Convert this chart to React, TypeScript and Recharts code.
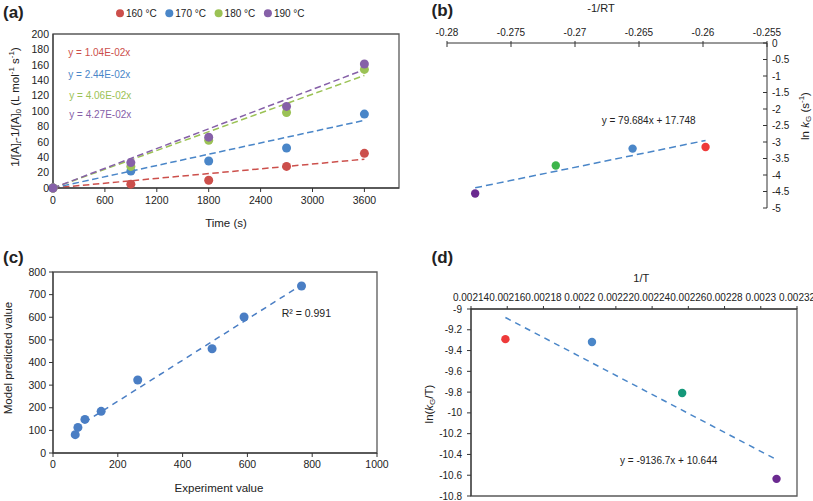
import React from 'react';
import { ScatterChart, Scatter, XAxis, YAxis, ReferenceLine, ReferenceArea } from 'recharts';

const FONT = "'Liberation Sans', Arial, Helvetica, sans-serif";
const TXT = '#222222';
const AX = '#333333';
const BOX = '#595959';

// ---------- Panel (a) ----------
const timeTicks = [0, 600, 1200, 1800, 2400, 3000, 3600];
const concTicks = [0, 20, 40, 60, 80, 100, 120, 140, 160, 180, 200];
const tempLabels = ['160 °C', '170 °C', '180 °C', '190 °C'];
const colorsA = ['#cc4f4b', '#4a86c8', '#9bc255', '#8660a8'];
const a160 = [{ x: 0, y: 0 }, { x: 900, y: 5 }, { x: 1800, y: 10 }, { x: 2700, y: 28 }, { x: 3600, y: 45 }];
const a170 = [{ x: 0, y: 0 }, { x: 900, y: 22 }, { x: 1800, y: 35 }, { x: 2700, y: 52 }, { x: 3600, y: 96 }];
const a180 = [{ x: 0, y: 0 }, { x: 900, y: 28 }, { x: 1800, y: 62 }, { x: 2700, y: 98 }, { x: 3600, y: 154 }];
const a190 = [{ x: 0, y: 0 }, { x: 900, y: 33 }, { x: 1800, y: 66 }, { x: 2700, y: 106 }, { x: 3600, y: 161 }];
const trendA160 = [{ x: 0, y: 0 }, { x: 3600, y: 37.4 }];
const trendA170 = [{ x: 0, y: 0 }, { x: 3600, y: 87.8 }];
const trendA180 = [{ x: 0, y: 0 }, { x: 3600, y: 146.2 }];
const trendA190 = [{ x: 0, y: 0 }, { x: 3600, y: 153.7 }];
const eqA = ['y = 1.04E-02x', 'y = 2.44E-02x', 'y = 4.06E-02x', 'y = 4.27E-02x'];

// ---------- Panel (b) ----------
const rtTicks = [-0.28, -0.275, -0.27, -0.265, -0.26, -0.255];
const lnkTicks = [0, -0.5, -1, -1.5, -2, -2.5, -3, -3.5, -4, -4.5, -5];
const bPurple = [{ x: -0.2778, y: -4.56 }];
const bGreen = [{ x: -0.2715, y: -3.71 }];
const bBlue = [{ x: -0.2655, y: -3.2 }];
const bRed = [{ x: -0.2598, y: -3.15 }];
const trendB = [{ x: -0.2778, y: -4.388 }, { x: -0.2598, y: -2.954 }];
const eqB = 'y = 79.684x + 17.748';

// ---------- Panel (c) ----------
const expTicks = [0, 200, 400, 600, 800, 1000];
const modTicks = [0, 100, 200, 300, 400, 500, 600, 700, 800];
const cPoints = [
  { x: 68.6, y: 81 },
  { x: 76.9, y: 113 },
  { x: 98.5, y: 148.6 },
  { x: 148.6, y: 184 },
  { x: 261.5, y: 322.6 },
  { x: 491, y: 461 },
  { x: 589.7, y: 601 },
  { x: 767, y: 738 },
];
const trendC = [{ x: 68.6, y: 109.5 }, { x: 767, y: 743 }];
const r2C = 'R² = 0.991';

// ---------- Panel (d) ----------
const invTTicks = [0.00214, 0.00216, 0.00218, 0.0022, 0.00222, 0.00224, 0.00226, 0.00228, 0.0023, 0.00232];
const lnkTTicks = [-9, -9.2, -9.4, -9.6, -9.8, -10, -10.2, -10.4, -10.6, -10.8];
const dRed = [{ x: 0.002159, y: -9.29 }];
const dBlue = [{ x: 0.0022068, y: -9.317 }];
const dGreen = [{ x: 0.0022566, y: -9.808 }];
const dPurple = [{ x: 0.0023087, y: -10.635 }];
const trendD = [{ x: 0.002159, y: -9.082 }, { x: 0.0023087, y: -10.45 }];
const eqD = 'y = -9136.7x + 10.644';

const dot = (color: string, r: number) => (p: any) => (
  <circle cx={p.cx} cy={p.cy} r={r} fill={color} />
);

const TopTickB = (p: any) => (
  <g>
    <line x1={p.x} x2={p.x} y1={p.y - 2} y2={p.y + 4} stroke={AX} strokeWidth={1} />
    <text x={p.x} y={p.y - 7.5} textAnchor="middle" fontSize={10} fill={TXT}>
      {String(p.payload.value)}
    </text>
  </g>
);

const RightTickB = (p: any) => (
  <g>
    <line x1={p.x - 4} x2={p.x} y1={p.y} y2={p.y} stroke={AX} strokeWidth={1} />
    <text x={p.x + 5} y={p.y} dy="0.35em" textAnchor="start" fontSize={10} fill={TXT}>
      {String(p.payload.value)}
    </text>
  </g>
);

const tickStyle = { fontSize: 10.5, fill: TXT };
const tickStyleSm = { fontSize: 10, fill: TXT };

export default function App() {
  const sub = 8;
  return (
    <div
      style={{
        position: 'absolute',
        left: 0,
        top: 0,
        width: 813,
        height: 501,
        background: '#fff',
        fontFamily: FONT,
        overflow: 'hidden',
      }}
    >
      {/* (a) */}
      <div style={{ position: 'absolute', left: 0, top: 0 }}>
        <ScatterChart width={410} height={250} margin={{ top: 34, right: 11, bottom: 42, left: 0 }}>
          <XAxis type="number" dataKey="x" domain={[0, 4000]} ticks={timeTicks} interval={0}
            tick={tickStyle} tickSize={4} tickMargin={5} stroke={AX} height={20} />
          <YAxis type="number" dataKey="y" domain={[0, 200]} ticks={concTicks} interval={0}
            tick={tickStyle} tickSize={0} tickMargin={4} stroke={AX} width={53} />
          <ReferenceArea x1={0} x2={4000} y1={0} y2={200} fill="none" stroke={BOX} strokeWidth={1.3} ifOverflow="visible" />
          <ReferenceLine segment={trendA160} stroke={colorsA[0]} strokeWidth={1.5} strokeDasharray="6.5 3.5" ifOverflow="visible" />
          <ReferenceLine segment={trendA170} stroke={colorsA[1]} strokeWidth={1.5} strokeDasharray="6.5 3.5" ifOverflow="visible" />
          <ReferenceLine segment={trendA180} stroke={colorsA[2]} strokeWidth={1.5} strokeDasharray="6.5 3.5" ifOverflow="visible" />
          <ReferenceLine segment={trendA190} stroke={colorsA[3]} strokeWidth={1.5} strokeDasharray="6.5 3.5" ifOverflow="visible" />
          <Scatter data={a160} shape={dot(colorsA[0], 4.5)} isAnimationActive={false} />
          <Scatter data={a170} shape={dot(colorsA[1], 4.5)} isAnimationActive={false} />
          <Scatter data={a180} shape={dot(colorsA[2], 4.5)} isAnimationActive={false} />
          <Scatter data={a190} shape={dot(colorsA[3], 4.5)} isAnimationActive={false} />
        </ScatterChart>
      </div>

      {/* (b) */}
      <div style={{ position: 'absolute', left: 410, top: 0 }}>
        <ScatterChart width={403} height={250} margin={{ top: 23, right: 6, bottom: 42, left: 37 }}>
          <XAxis type="number" dataKey="x" orientation="top" domain={[-0.28, -0.255]} ticks={rtTicks} interval={0}
            height={20} tickSize={0} tickMargin={0} tickLine={false} tick={(p: any) => <TopTickB {...p} />} stroke={AX} />
          <YAxis type="number" dataKey="y" orientation="right" domain={[-5, 0]} ticks={lnkTicks} interval={0}
            width={40} tickSize={0} tickMargin={0} tickLine={false} tick={(p: any) => <RightTickB {...p} />} stroke={AX} />
          <ReferenceLine segment={trendB} stroke="#4a86c8" strokeWidth={1.5} strokeDasharray="7 4" ifOverflow="visible" />
          <Scatter data={bPurple} shape={dot('#6b2a90', 4.2)} isAnimationActive={false} />
          <Scatter data={bGreen} shape={dot('#3db54a', 4.2)} isAnimationActive={false} />
          <Scatter data={bBlue} shape={dot('#4a86c8', 4.2)} isAnimationActive={false} />
          <Scatter data={bRed} shape={dot('#ee3a3a', 4.2)} isAnimationActive={false} />
        </ScatterChart>
      </div>

      {/* (c) */}
      <div style={{ position: 'absolute', left: 0, top: 250 }}>
        <ScatterChart width={410} height={251} margin={{ top: 22, right: 33, bottom: 28, left: 0 }}>
          <XAxis type="number" dataKey="x" domain={[0, 1000]} ticks={expTicks} interval={0}
            tick={tickStyle} tickSize={4} tickMargin={4} stroke={AX} height={20} />
          <YAxis type="number" dataKey="y" domain={[0, 800]} ticks={modTicks} interval={0}
            tick={tickStyle} tickSize={4} tickMargin={3} stroke={AX} width={53} />
          <ReferenceArea x1={0} x2={1000} y1={0} y2={800} fill="none" stroke={BOX} strokeWidth={1.3} ifOverflow="visible" />
          <ReferenceLine segment={trendC} stroke="#4a7ec4" strokeWidth={1.5} strokeDasharray="6 5" ifOverflow="visible" />
          <Scatter data={cPoints} shape={dot('#4a7ec4', 4.5)} isAnimationActive={false} />
        </ScatterChart>
      </div>

      {/* (d) */}
      <div style={{ position: 'absolute', left: 410, top: 250 }}>
        <ScatterChart width={403} height={251} margin={{ top: 39, right: 16, bottom: 5, left: 0 }}>
          <XAxis type="number" dataKey="x" orientation="top" domain={[0.00214, 0.00232]} ticks={invTTicks} interval={0}
            tick={tickStyleSm} tickSize={3} tickMargin={5.5} stroke={AX} height={20} />
          <YAxis type="number" dataKey="y" domain={[-10.8, -9]} ticks={lnkTTicks} interval={0}
            tick={tickStyleSm} tickSize={4} tickMargin={5} stroke={AX} width={61} />
          <ReferenceArea x1={0.00214} x2={0.00232} y1={-10.8} y2={-9} fill="none" stroke={BOX} strokeWidth={1.3} ifOverflow="visible" />
          <ReferenceLine segment={trendD} stroke="#4a86c8" strokeWidth={1.5} strokeDasharray="6 5" ifOverflow="visible" />
          <Scatter data={dRed} shape={dot('#ee3a3a', 4.2)} isAnimationActive={false} />
          <Scatter data={dBlue} shape={dot('#4a86c8', 4.2)} isAnimationActive={false} />
          <Scatter data={dGreen} shape={dot('#14987a', 4.2)} isAnimationActive={false} />
          <Scatter data={dPurple} shape={dot('#6b2a90', 4.2)} isAnimationActive={false} />
        </ScatterChart>
      </div>

      {/* text overlay */}
      <svg width={813} height={501} style={{ position: 'absolute', left: 0, top: 0, pointerEvents: 'none' }}
        fontFamily={FONT} fill={TXT}>
        {/* (a) */}
        <text x={3} y={18} fontSize={17} fontWeight="bold">(a)</text>
        {tempLabels.map((t, i) => (
          <g key={t}>
            <circle cx={120 + i * 49.3} cy={13.3} r={4} fill={colorsA[i]} />
            <text x={126 + i * 49.3} y={16.8} fontSize={10}>{t}</text>
          </g>
        ))}
        {eqA.map((t, i) => (
          <text key={t} x={68.3 + (i >= 2 ? 1 : 0)} y={[56, 78, 98.5, 118][i]} fontSize={10} fill={colorsA[i]}>{t}</text>
        ))}
        <text x={226} y={227} textAnchor="middle" fontSize={11.5}>Time (s)</text>
        <text transform="translate(15,107) rotate(-90)" textAnchor="middle" dominantBaseline="central" fontSize={11.5}>
          1/[A]<tspan fontStyle="italic" fontSize={sub} dy={3}>t</tspan>
          <tspan dy={-3}>{'-1/[A]'}</tspan>
          <tspan fontSize={sub} dy={3}>0</tspan>
          <tspan dy={-3}>{' (L mol'}</tspan>
          <tspan fontSize={sub} dy={-4}>-1</tspan>
          <tspan dy={4}>{' s'}</tspan>
          <tspan fontSize={sub} dy={-4}>-1</tspan>
          <tspan dy={4}>)</tspan>
        </text>

        {/* (b) */}
        <text x={431.5} y={16} fontSize={17} fontWeight="bold">(b)</text>
        <text x={601} y={12} textAnchor="middle" fontSize={11}>-1/RT</text>
        <text x={601.7} y={123.5} fontSize={10}>{eqB}</text>
        <text transform="translate(805,116) rotate(-90)" textAnchor="middle" dominantBaseline="central" fontSize={11.5}>
          {'ln '}<tspan fontStyle="italic">k</tspan>
          <tspan fontSize={sub} dy={3}>G</tspan>
          <tspan dy={-3}>{' (s'}</tspan>
          <tspan fontSize={sub} dy={-4}>-1</tspan>
          <tspan dy={4}>)</tspan>
        </text>

        {/* (c) */}
        <text x={3} y={263} fontSize={17} fontWeight="bold">(c)</text>
        <text x={281.7} y={316.5} fontSize={10.5}>{r2C}</text>
        <text x={219} y={492} textAnchor="middle" fontSize={11.5}>Experiment value</text>
        <text transform="translate(8,358) rotate(-90)" textAnchor="middle" dominantBaseline="central" fontSize={11.5}>
          Model predicted value
        </text>

        {/* (d) */}
        <text x={431.5} y={263} fontSize={17} fontWeight="bold">(d)</text>
        <text x={641.3} y={282} textAnchor="middle" fontSize={11}>1/T</text>
        <text x={620} y={464} fontSize={10}>{eqD}</text>
        <text transform="translate(428.5,404) rotate(-90)" textAnchor="middle" dominantBaseline="central" fontSize={11.5}>
          {'ln('}<tspan fontStyle="italic">k</tspan>
          <tspan fontSize={sub} dy={3}>G</tspan>
          <tspan dy={-3}>/T)</tspan>
        </text>
      </svg>
    </div>
  );
}
